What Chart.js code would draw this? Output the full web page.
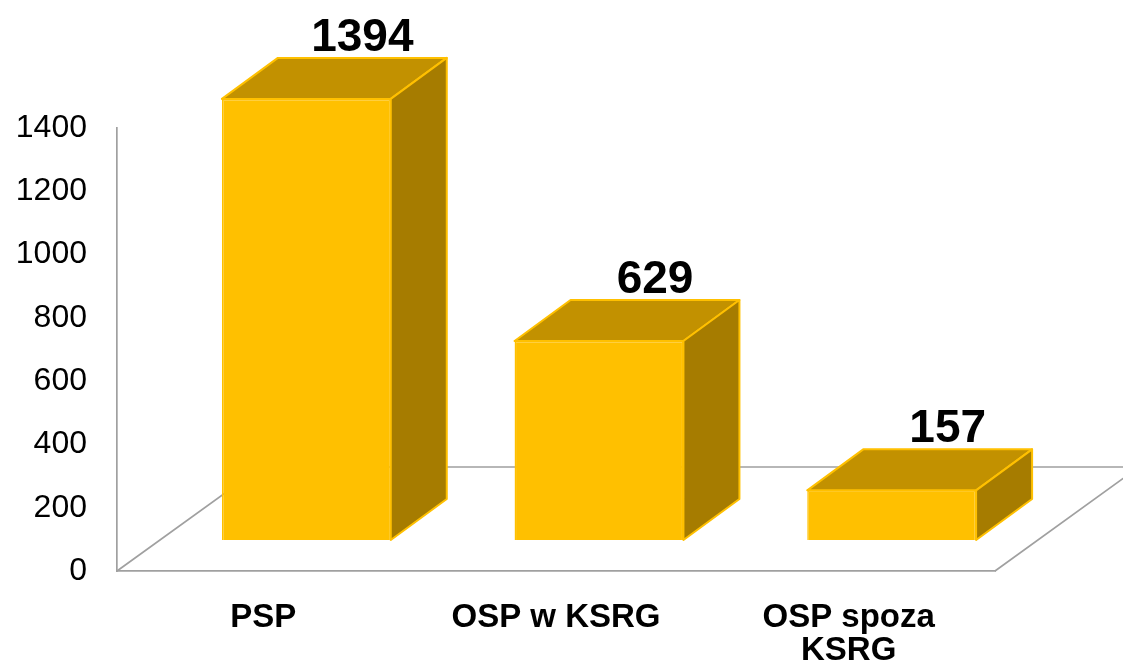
<!DOCTYPE html>
<html><head><meta charset="utf-8">
<script src="https://cdn.jsdelivr.net/npm/chart.js@4"></script>
<style>html,body{margin:0;padding:0;background:#fff}canvas{display:block}</style>
</head><body>
<canvas id="c" width="1123" height="662"></canvas>
<script>
const categories = ['PSP', 'OSP w KSRG', ['OSP spoza', 'KSRG']];
const values = [1394, 629, 157];
const yTicks = [0, 200, 400, 600, 800, 1000, 1200, 1400];

const SHIFT_X = 43, SHIFT_Y = -31;     // bars sit in the middle of the floor depth
const DEPTH_X = 56, DEPTH_Y = -41;     // bar depth
const FLOOR_DX = 144, FLOOR_DY = -104; // floor depth
const FRONT = '#FFC000', TOP = '#C29100', SIDE = '#A67C00', EDGE = '#FFC000', AXIS = '#A0A0A0';

const bars3d = {
  id: 'bars3d',
  beforeDatasetsDraw(chart) {
    const { ctx, chartArea: a } = chart;
    ctx.save();
    ctx.strokeStyle = AXIS; ctx.lineWidth = 1.7;
    ctx.beginPath();
    ctx.moveTo(a.left, a.bottom);
    ctx.lineTo(a.left + FLOOR_DX, a.bottom + FLOOR_DY);
    ctx.lineTo(a.right + FLOOR_DX, a.bottom + FLOOR_DY);
    ctx.lineTo(a.right, a.bottom);
    ctx.stroke();
    ctx.translate(SHIFT_X, SHIFT_Y);
  },
  afterDatasetsDraw(chart) {
    const ctx = chart.ctx;
    const meta = chart.getDatasetMeta(0);
    ctx.lineWidth = 2;
    ctx.strokeStyle = EDGE;
    ctx.lineJoin = 'round';
    meta.data.forEach((bar, i) => {
      const l = bar.x - bar.width / 2, r = bar.x + bar.width / 2, t = bar.y, b = bar.base;
      ctx.beginPath();
      ctx.moveTo(l, t); ctx.lineTo(l + DEPTH_X, t + DEPTH_Y);
      ctx.lineTo(r + DEPTH_X, t + DEPTH_Y); ctx.lineTo(r, t); ctx.closePath();
      ctx.fillStyle = TOP; ctx.fill(); ctx.stroke();
      ctx.beginPath();
      ctx.moveTo(r, t); ctx.lineTo(r + DEPTH_X, t + DEPTH_Y);
      ctx.lineTo(r + DEPTH_X, b + DEPTH_Y); ctx.lineTo(r, b); ctx.closePath();
      ctx.fillStyle = SIDE; ctx.fill(); ctx.stroke();
      ctx.fillStyle = '#000';
      ctx.font = 'bold 46px "Liberation Sans", Arial, sans-serif';
      ctx.textAlign = 'center'; ctx.textBaseline = 'alphabetic';
      ctx.fillText(String(values[i]), bar.x + DEPTH_X, t + DEPTH_Y - 7);
    });
    ctx.restore();
  }
};

new Chart(document.getElementById('c'), {
  type: 'bar',
  data: {
    labels: categories,
    datasets: [{
      data: values,
      backgroundColor: FRONT,
      borderColor: EDGE,
      borderWidth: 1.5,
      categoryPercentage: 0.577,
      barPercentage: 1,
      clip: false
    }]
  },
  options: {
    responsive: false,
    animation: false,
    events: [],
    layout: { padding: { left: 0, right: 128, top: 128, bottom: 0 } },
    plugins: { legend: { display: false }, tooltip: { enabled: false } },
    scales: {
      x: {
        grid: { display: false },
        border: { display: true, color: AXIS, width: 1.7 },
        afterFit(s) { s.height = 91; },
        ticks: {
          autoSkip: false, maxRotation: 0, minRotation: 0, padding: 22,
          color: '#000',
          font: { family: '"Liberation Sans", Arial, sans-serif', size: 33, weight: 'bold', lineHeight: 1.0 }
        }
      },
      y: {
        min: yTicks[0], max: yTicks[yTicks.length - 1],
        grid: { display: false },
        border: { display: true, color: AXIS, width: 1.7 },
        afterFit(s) { s.width = 117; },
        afterBuildTicks(s) { s.ticks = yTicks.map(v => ({ value: v })); },
        ticks: {
          padding: 22, color: '#000',
          callback: (v) => String(v),
          font: { family: '"Liberation Sans", Arial, sans-serif', size: 32 }
        }
      }
    }
  },
  plugins: [bars3d]
});
</script>
</body></html>
